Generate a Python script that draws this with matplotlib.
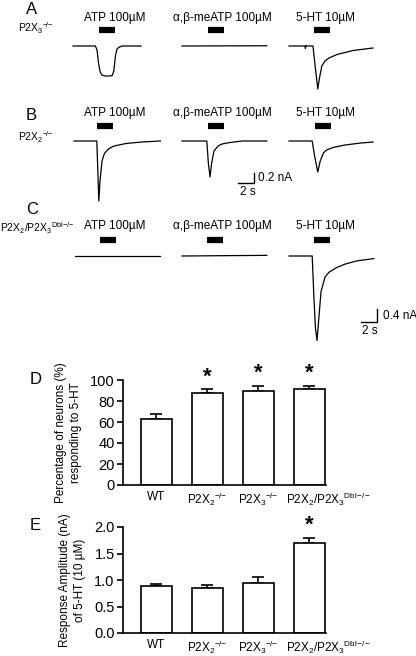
import matplotlib
matplotlib.use("Agg")
import matplotlib.pyplot as plt
from matplotlib.transforms import Affine2D

plt.rcParams['font.family'] = ['Liberation Sans', 'DejaVu Sans']
plt.rcParams['mathtext.fontset'] = 'custom'
plt.rcParams['mathtext.rm'] = 'Liberation Sans'
plt.rcParams['mathtext.it'] = 'Liberation Sans:italic'
plt.rcParams['mathtext.bf'] = 'Liberation Sans:bold'
plt.rcParams['mathtext.default'] = 'regular'

# ---- data ----
drugs = ["ATP 100µM", "α,β-meATP 100µM", "5-HT 10µM"]
row_names = ["P2X$_3$$^{-\\!/\\!-}$", "P2X$_2$$^{-\\!/\\!-}$", "P2X$_2$/P2X$_3$$^{Dbl\\!-\\!/\\!-}$"]
# traces: (time s, current nA)
traceA_atp = ([0, 2.8, 3.0, 3.2, 3.4, 3.6, 4.0, 4.5, 4.9, 5.1, 5.3, 5.5, 5.8, 6.2, 8.5],
              [0, 0, -0.08, -0.35, -0.52, -0.58, -0.6, -0.6, -0.59, -0.5, -0.2, -0.06, -0.02, 0, 0])
traceA_ab = ([0, 10.6], [0, 0.005])
traceA_ht = ([0, 2.0, 2.05, 2.1, 2.2, 3.0, 3.3, 3.6, 3.8, 4.1, 4.5, 5.0, 6.0, 8.0, 10.5],
             [0, 0, -0.05, 0.01, 0, 0, -0.45, -0.86, -0.65, -0.4, -0.3, -0.24, -0.17, -0.09, -0.04])
traceB_atp = ([0, 2.85, 3.0, 3.1, 3.25, 3.5, 3.8, 4.3, 5.0, 6.5, 8.5, 10.8],
              [0, 0, -0.7, -1.2, -0.8, -0.4, -0.25, -0.16, -0.1, -0.05, -0.02, 0])
traceB_ab = ([0, 3.1, 3.3, 3.5, 3.7, 4.0, 4.5, 5.0, 6.0, 7.5, 10.6],
             [0, 0, -0.45, -0.72, -0.45, -0.2, -0.1, -0.06, -0.03, 0, 0])
traceB_ht = ([0, 2.9, 3.2, 3.6, 3.9, 4.3, 4.7, 5.5, 7.0, 9.0, 10.5],
             [0, 0, -0.3, -0.62, -0.4, -0.24, -0.18, -0.13, -0.08, -0.04, -0.02])
traceC_atp = ([0, 10.6], [0, 0])
traceC_ab = ([0, 10.6], [0, 0.02])
traceC_ht = ([0, 2.9, 3.1, 3.3, 3.5, 3.7, 4.0, 4.5, 5.0, 6.0, 7.0, 8.5, 10.6],
             [0, 0, -1.2, -2.2, -2.6, -2.0, -1.1, -0.65, -0.5, -0.35, -0.25, -0.15, -0.08])
traces = [[traceA_atp, traceA_ab, traceA_ht],
          [traceB_atp, traceB_ab, traceB_ht],
          [traceC_atp, traceC_ab, traceC_ht]]
bar_start = [[3.25, 3.25, 3.1], [2.9, 3.2, 3.2], [3.1, 3.1, 3.1]]
bar_dur = 2.0

groups = ["WT", "P2X$_2$$^{-\\!/\\!-}$", "P2X$_3$$^{-\\!/\\!-}$", "P2X$_2$/P2X$_3$$^{Dbl\\!-\\!/\\!-}$"]
pct = [63, 88, 90, 91]
pct_err = [4.5, 3, 4, 3]
amp = [0.88, 0.85, 0.95, 1.70]
amp_err = [0.05, 0.05, 0.10, 0.10]
pct_sig = [False, True, True, True]
amp_sig = [False, False, False, True]

# ---- figure ----
W, H = 416, 656
fig = plt.figure(figsize=(W / 100, H / 100), dpi=100)
ov = fig.add_axes([0, 0, 1, 1])
ov.set_xlim(0, W); ov.set_ylim(H, 0); ov.axis('off')

trace_x0 = [[73, 182, 289], [74, 182, 289], [75, 182, 289]]
base_y = [46, 141, 256]
px_per_s = 8.0
px_per_nA = [50, 50, 32.5]
label_y = [18, 113, 226]
bar_y = [30, 126, 240]
label_x = [115, 222, 326]

for r in range(3):
    for c in range(3):
        tr = Affine2D().scale(px_per_s, -px_per_nA[r]).translate(trace_x0[r][c], base_y[r]) + ov.transData
        t, i = traces[r][c]
        ov.plot(t, i, color='black', lw=0.9, transform=tr)
        xs = trace_x0[r][c] + bar_start[r][c] * px_per_s
        ov.plot([xs, xs + bar_dur * px_per_s], [bar_y[r], bar_y[r]], color='black', lw=4.5, solid_capstyle='butt')
        ov.text(label_x[c], label_y[r], drugs[c], ha='center', va='center', fontsize=8.5)

for lab, y in zip("ABC", [10, 116, 210]):
    ov.text(26, y, lab, fontsize=12, ha='left', va='center')
ov.text(18, 28, row_names[0], fontsize=7.5, va='center')
ov.text(18, 137, row_names[1], fontsize=7.5, va='center')
ov.text(0, 228, row_names[2], fontsize=7.5, va='center')

# scale bars
ov.plot([238, 254, 254], [183, 183, 172.5], color='black', lw=1)
ov.text(258, 178, "0.2 nA", fontsize=8.5, va='center')
ov.text(240, 192, "2 s", fontsize=8.5, va='center')
ov.plot([361, 377, 377], [322, 322, 309], color='black', lw=1)
ov.text(383, 316, "0.4 nA", fontsize=8.5, va='center')
ov.text(362, 331, "2 s", fontsize=8.5, va='center')

ov.text(30, 379, "D", fontsize=12, va='center')
ov.text(30, 526, "E", fontsize=12, va='center')

def barpanel(rect, vals, errs, sig, ylim, ticks, ticklabels, ylabel):
    ax = fig.add_axes(rect)
    x = list(range(len(vals)))
    ax.bar(x, vals, width=0.61, color='white', edgecolor='black', lw=1.2, zorder=2)
    ax.errorbar(x, vals, yerr=[[0] * len(errs), errs], fmt='none', ecolor='black', elinewidth=1.2, capsize=4, capthick=1.2, zorder=1)
    for xi, v, e, s in zip(x, vals, errs, sig):
        if s:
            ax.text(xi, v + e + (ylim[1] - ylim[0]) * 0.02, "*", ha='center', va='bottom', fontsize=16, fontweight='bold')
    ax.set_xlim(-0.65, 3.33)
    ax.set_ylim(*ylim)
    ax.set_yticks(ticks)
    ax.set_yticklabels(ticklabels, fontsize=10.5)
    ax.set_xticks(x)
    ax.set_xticklabels(groups[:3] + [""], fontsize=8.5)
    ax.annotate(groups[3], xy=(3, 0), xycoords=ax.get_xaxis_transform(),
                xytext=(14, -4), textcoords='offset points', ha='center', va='top', fontsize=8.5,
                annotation_clip=False)
    ax.tick_params(axis='x', length=0, pad=4)
    ax.tick_params(axis='y', length=4, width=1.2, direction='out', pad=2)
    for s in ['top', 'right']:
        ax.spines[s].set_visible(False)
    for s in ['left', 'bottom']:
        ax.spines[s].set_linewidth(1.2)
    ax.set_ylabel(ylabel, fontsize=8.5, linespacing=1.3, labelpad=6)
    ax.patch.set_alpha(0)
    return ax

barpanel([123 / W, 1 - 485 / H, 203 / W, 105 / H], pct, pct_err, pct_sig, (0, 100),
         [0, 20, 40, 60, 80, 100], ["0", "20", "40", "60", "80", "100"],
         "Percentage of neurons (%)\nresponding to 5-HT")
barpanel([123 / W, 1 - 633 / H, 203 / W, 106 / H], amp, amp_err, amp_sig, (0, 2.0),
         [0, 0.5, 1.0, 1.5, 2.0], ["0.0", "0.5", "1.0", "1.5", "2.0"],
         "Response Amplitude (nA)\nof 5-HT (10 µM)")

fig.savefig("out.png", dpi=100)
